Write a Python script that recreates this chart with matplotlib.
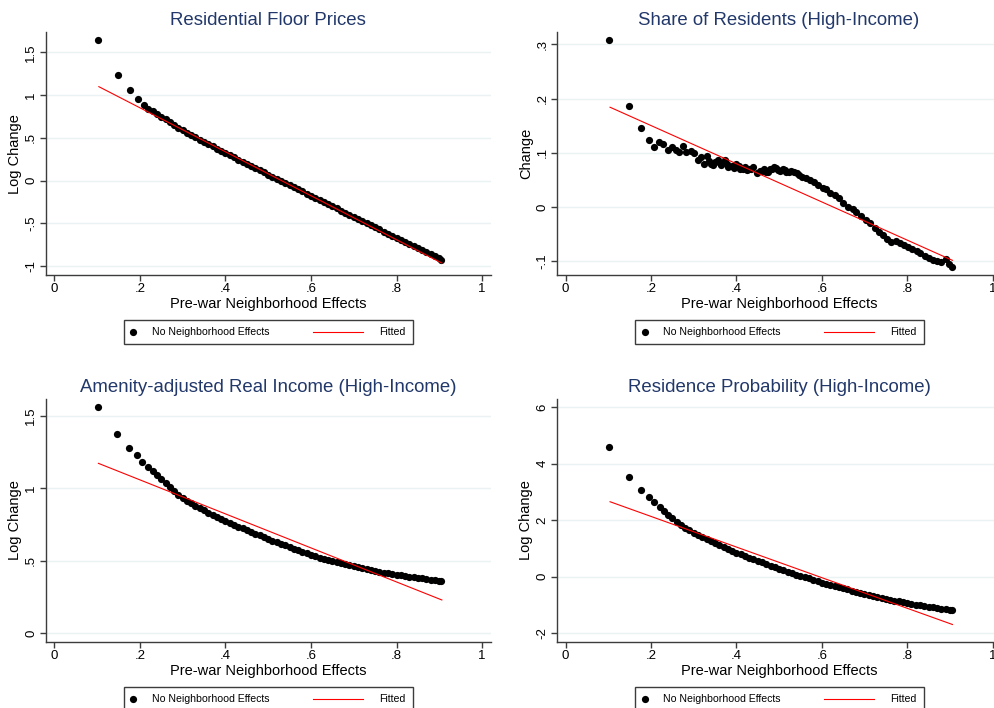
import matplotlib
matplotlib.use("Agg")
import matplotlib.pyplot as plt
from matplotlib.lines import Line2D
from matplotlib.patches import Rectangle

plt.rcParams["font.family"] = ["Liberation Sans", "DejaVu Sans"]

# --------------------------------------------------------------------------
# values

# common x grid of the dense part of the curves
grid_x = [0.22, 0.23, 0.24, 0.25, 0.26, 0.27, 0.28, 0.29, 0.30, 0.31,
          0.32, 0.33, 0.34, 0.35, 0.36, 0.37, 0.38, 0.39, 0.40, 0.41,
          0.42, 0.43, 0.44, 0.45, 0.46, 0.47, 0.48, 0.49, 0.50, 0.51,
          0.52, 0.53, 0.54, 0.55, 0.56, 0.57, 0.58, 0.59, 0.60, 0.61,
          0.62, 0.63, 0.64, 0.65, 0.66, 0.67, 0.68, 0.69, 0.70, 0.71,
          0.72, 0.73, 0.74, 0.75, 0.76, 0.77, 0.78, 0.79, 0.80, 0.81,
          0.82, 0.83, 0.84, 0.85, 0.86, 0.87, 0.88, 0.89, 0.90, 0.905]

# Residential Floor Prices
floor_x = [0.103, 0.148, 0.177, 0.195, 0.209] + grid_x
floor_y = [1.64, 1.23, 1.055, 0.95, 0.885,
           0.84, 0.81, 0.78, 0.745, 0.715, 0.68, 0.65, 0.62, 0.59, 0.56,
           0.535, 0.505, 0.478, 0.452, 0.425, 0.40, 0.372, 0.346, 0.32, 0.295,
           0.27, 0.245, 0.22, 0.195, 0.17, 0.145, 0.12, 0.095, 0.07, 0.046,
           0.021, -0.003, -0.028, -0.053, -0.078, -0.103, -0.128, -0.153, -0.178, -0.203,
           -0.228, -0.253, -0.278, -0.302, -0.327, -0.352, -0.376, -0.401, -0.425, -0.45,
           -0.475, -0.499, -0.524, -0.548, -0.572, -0.597, -0.621, -0.645, -0.669, -0.693,
           -0.717, -0.741, -0.765, -0.789, -0.813, -0.837, -0.861, -0.885, -0.91, -0.935]
floor_fit_x = [0.104, 0.906]
floor_fit_y = [1.098, -0.965]

# Share of Residents (High-Income)
share_x = [0.102, 0.149, 0.177, 0.196, 0.208, 0.219, 0.229, 0.239, 0.248, 0.258,
           0.265, 0.274, 0.283, 0.293, 0.300, 0.310, 0.318, 0.325, 0.332, 0.335,
           0.340, 0.345, 0.350, 0.357, 0.362, 0.365, 0.373, 0.378, 0.381, 0.389,
           0.395, 0.400, 0.405, 0.408, 0.415, 0.420, 0.425, 0.430, 0.435, 0.440,
           0.449, 0.455, 0.459, 0.465, 0.469, 0.474, 0.478, 0.483, 0.488, 0.493,
           0.498, 0.503, 0.508, 0.513, 0.517, 0.523, 0.529, 0.535, 0.541, 0.547,
           0.553, 0.563, 0.572, 0.581, 0.592, 0.602, 0.611, 0.620, 0.631, 0.641,
           0.650, 0.662, 0.672, 0.681, 0.693, 0.703, 0.714, 0.724, 0.734, 0.744,
           0.753, 0.763, 0.773, 0.783, 0.792, 0.802, 0.812, 0.822, 0.831, 0.841,
           0.852, 0.861, 0.870, 0.880, 0.891, 0.898, 0.906]
share_y = [0.307, 0.186, 0.146, 0.1235, 0.111, 0.120, 0.116, 0.105, 0.111, 0.106,
           0.102, 0.112, 0.102, 0.104, 0.100, 0.087, 0.093, 0.079, 0.094, 0.085,
           0.080, 0.078, 0.084, 0.087, 0.082, 0.077, 0.087, 0.080, 0.074, 0.076,
           0.072, 0.079, 0.075, 0.071, 0.070, 0.074, 0.069, 0.071, 0.070, 0.074,
           0.063, 0.066, 0.067, 0.070, 0.065, 0.064, 0.071, 0.070, 0.074, 0.072,
           0.068, 0.066, 0.071, 0.068, 0.065, 0.064, 0.067, 0.064, 0.062, 0.059,
           0.056, 0.053, 0.050, 0.047, 0.041, 0.036, 0.033, 0.026, 0.022, 0.016,
           0.008, 0.000, -0.004, -0.009, -0.017, -0.023, -0.030, -0.039, -0.045, -0.052,
           -0.058, -0.064, -0.062, -0.066, -0.070, -0.073, -0.078, -0.080, -0.085, -0.090,
           -0.093, -0.098, -0.100, -0.101, -0.096, -0.104, -0.110]
share_fit_x = [0.104, 0.906]
share_fit_y = [0.184, -0.098]

# Amenity-adjusted Real Income (High-Income)
income_x = [0.101, 0.146, 0.174, 0.193, 0.206] + grid_x
income_y = [1.56, 1.377, 1.281, 1.234, 1.185,
            1.150, 1.122, 1.095, 1.068, 1.040, 1.011, 0.983, 0.957, 0.935, 0.915,
            0.896, 0.880, 0.864, 0.848, 0.833, 0.818, 0.804, 0.790, 0.776, 0.763,
            0.750, 0.737, 0.724, 0.712, 0.700, 0.688, 0.676, 0.664, 0.650, 0.639,
            0.628, 0.617, 0.606, 0.595, 0.584, 0.574, 0.564, 0.553, 0.540, 0.531,
            0.523, 0.515, 0.507, 0.500, 0.493, 0.486, 0.478, 0.471, 0.464, 0.457,
            0.450, 0.444, 0.437, 0.431, 0.425, 0.419, 0.413, 0.408, 0.403, 0.399,
            0.395, 0.391, 0.387, 0.383, 0.379, 0.375, 0.371, 0.367, 0.363, 0.358]
income_fit_x = [0.103, 0.906]
income_fit_y = [1.173, 0.230]

# Residence Probability (High-Income)
prob_x = [0.102, 0.149, 0.177, 0.196, 0.207] + grid_x
prob_y = [4.58, 3.52, 3.06, 2.81, 2.63,
          2.45, 2.31, 2.18, 2.06, 1.94, 1.83, 1.73, 1.64, 1.55, 1.47,
          1.39, 1.32, 1.25, 1.18, 1.11, 1.04, 0.98, 0.91, 0.85, 0.79,
          0.73, 0.67, 0.61, 0.555, 0.50, 0.44, 0.385, 0.33, 0.27, 0.22,
          0.17, 0.12, 0.07, 0.025, -0.02, -0.07, -0.12, -0.17, -0.22, -0.26,
          -0.30, -0.34, -0.38, -0.42, -0.46, -0.50, -0.54, -0.58, -0.62, -0.655,
          -0.69, -0.72, -0.755, -0.79, -0.82, -0.855, -0.885, -0.915, -0.945, -0.97,
          -0.995, -1.02, -1.045, -1.07, -1.095, -1.12, -1.14, -1.165, -1.185, -1.20]
prob_fit_x = [0.104, 0.906]
prob_fit_y = [2.65, -1.70]

titles = ["Residential Floor Prices", "Share of Residents (High-Income)",
          "Amenity-adjusted Real Income (High-Income)", "Residence Probability (High-Income)"]
ylabels = ["Log Change", "Change", "Log Change", "Log Change"]
xlabel = "Pre-war Neighborhood Effects"
x_ticks = [0, 0.2, 0.4, 0.6, 0.8, 1]
x_ticklabels = ["0", ".2", ".4", ".6", ".8", "1"]
y_ticks = [[-1, -0.5, 0, 0.5, 1, 1.5], [-0.1, 0, 0.1, 0.2, 0.3], [0, 0.5, 1, 1.5], [-2, 0, 2, 4, 6]]
y_ticklabels = [["-1", "-.5", "0", ".5", "1", "1.5"], ["-.1", "0", ".1", ".2", ".3"],
                ["0", ".5", "1", "1.5"], ["-2", "0", "2", "4", "6"]]
y_limits = [(-1.105, 1.734), (-0.125, 0.322), (-0.058, 1.615), (-2.31, 6.28)]
legend_labels = ["No Neighborhood Effects", "Fitted"]

# --------------------------------------------------------------------------

W, H = 994, 708
NAVY = "#22386a"
AXIS = "#3c3c3c"
GRID = "#eaf2f3"
DOT = 5.2  # marker diameter, points

fig = plt.figure(figsize=(W / 100, H / 100), dpi=100)
fig.patch.set_facecolor("white")

# axes boxes in pixels: left, top, bottom, width
boxes = [(45.8, 32.3, 275.0, 444.8), (557.1, 32.3, 275.0, 444.0),
         (45.8, 399.3, 641.7, 444.8), (557.1, 399.3, 641.7, 444.0)]
series = [(floor_x, floor_y, floor_fit_x, floor_fit_y),
          (share_x, share_y, share_fit_x, share_fit_y),
          (income_x, income_y, income_fit_x, income_fit_y),
          (prob_x, prob_y, prob_fit_x, prob_fit_y)]


def fx(x):
    return x / W


def fy(y):
    return 1 - y / H


def legend(left, bottom):
    """Stata-style boxed legend under a panel, drawn in figure pixels."""
    fig.add_artist(Rectangle((fx(left + 78), fy(bottom + 69)), 289 / W, 24 / H,
                             transform=fig.transFigure, facecolor="white",
                             edgecolor=AXIS, lw=1.0))
    yc = fy(bottom + 57)
    fig.add_artist(Line2D([fx(left + 87.5)], [yc], transform=fig.transFigure,
                          marker="o", ms=DOT, color="black", mew=0, ls="none"))
    fig.text(fx(left + 106), yc, legend_labels[0], fontsize=7.6, va="center")
    fig.add_artist(Line2D([fx(left + 267), fx(left + 317)], [yc, yc],
                          transform=fig.transFigure, color="red", lw=0.8))
    fig.text(fx(left + 333), yc, legend_labels[1], fontsize=7.6, va="center")


for i, ((left, top, bottom, width), (sx, sy, lx, ly)) in enumerate(zip(boxes, series)):
    height = bottom - top
    ax = fig.add_axes([fx(left), fy(bottom), width / W, height / H])
    ax.plot(sx, sy, "o", color="black", ms=DOT, mew=0, zorder=3)
    ax.plot(lx, ly, color="red", lw=0.8, zorder=4)

    ax.set_xlim(-0.02, 1.02)
    ax.set_ylim(*y_limits[i])
    ax.set_xticks(x_ticks, x_ticklabels)
    ax.set_yticks(y_ticks[i], y_ticklabels[i])
    ax.grid(axis="y", color=GRID, lw=1.0)
    ax.set_axisbelow(True)
    for side in ("top", "right"):
        ax.spines[side].set_visible(False)
    for side in ("left", "bottom"):
        ax.spines[side].set_color(AXIS)
        ax.spines[side].set_linewidth(1.0)
    ax.tick_params(direction="out", length=4.3, width=1.0, color=AXIS, labelsize=9.5)
    ax.tick_params(axis="x", pad=1.5)
    ax.tick_params(axis="y", pad=2, labelrotation=90)
    for lab in ax.get_yticklabels():
        lab.set_va("center")

    ax.set_title(titles[i], color=NAVY, fontsize=13.4, pad=5)
    ax.set_xlabel(xlabel, fontsize=10.5, va="center")
    ax.xaxis.set_label_coords(0.5, -29 / height)
    ax.set_ylabel(ylabels[i], fontsize=10.5, va="center")
    ax.yaxis.set_label_coords(-31 / width, 0.5)

    legend(left, bottom)

fig.savefig("out.png", dpi=100, facecolor="white")
